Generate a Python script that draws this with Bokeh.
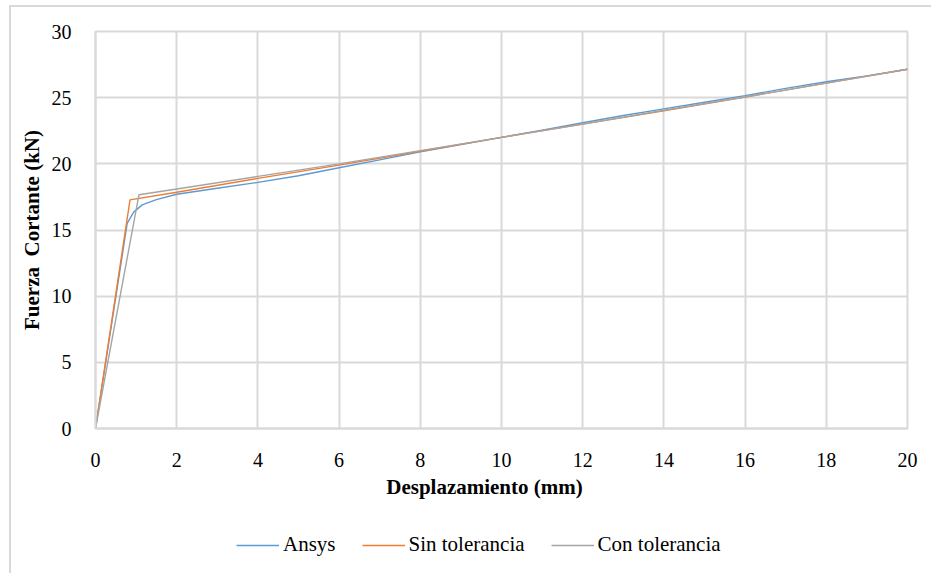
from bokeh.plotting import figure
from bokeh.layouts import column
from bokeh.models import Legend, LegendItem, Range1d, FixedTicker, Label
from bokeh.embed import file_html
from bokeh.resources import INLINE

# Data
x_ansys = [0, 0.78, 0.94, 1.15, 1.5, 2, 3, 4, 5, 6, 7, 8, 9, 10, 11, 12, 13, 14, 15, 16, 17, 18, 19, 20]
y_ansys = [0, 15.5, 16.35, 16.9, 17.3, 17.7, 18.15, 18.6, 19.1, 19.7, 20.3, 20.9, 21.45, 22.0, 22.55, 23.1, 23.65, 24.15, 24.65, 25.15, 25.7, 26.2, 26.65, 27.15]

x_sin = [0, 0.85, 2, 4, 6, 8, 10, 12, 14, 16, 18, 20]
y_sin = [0, 17.28, 17.85, 18.9, 19.9, 20.95, 22.0, 23.0, 24.0, 25.05, 26.1, 27.15]

x_con = [0, 1.07, 2, 4, 6, 8, 10, 12, 14, 16, 18, 20]
y_con = [0, 17.66, 18.1, 19.05, 20.0, 21.0, 22.0, 23.0, 24.05, 25.05, 26.1, 27.15]

x_ticks = [0, 2, 4, 6, 8, 10, 12, 14, 16, 18, 20]
y_ticks = [0, 5, 10, 15, 20, 25, 30]

series_names = ["Ansys", "Sin tolerancia", "Con tolerancia"]
colors = ["#5B9BD5", "#ED7D31", "#A5A5A5"]
series_x = [x_ansys, x_sin, x_con]
series_y = [y_ansys, y_sin, y_con]

x_title = "Desplazamiento (mm)"
y_title = "Fuerza\u00a0 Cortante (kN)"

FONT = "Liberation Serif"
GRID = "#d9d9d9"

p = figure(
    frame_width=812, frame_height=397,
    min_border_left=84, min_border_top=24, min_border_right=24, min_border_bottom=46,
    output_backend="svg", toolbar_location=None,
    x_range=Range1d(0, 20), y_range=Range1d(0, 30),
)

for xs, ys, c in zip(series_x, series_y, colors):
    p.line(xs, ys, line_color=c, line_width=1.4)

p.xaxis.ticker = FixedTicker(ticks=x_ticks)
p.yaxis.ticker = FixedTicker(ticks=y_ticks)
for ax in (p.xaxis, p.yaxis):
    ax.major_tick_line_color = None
    ax.minor_tick_line_color = None
    ax.axis_line_color = GRID
    ax.axis_line_width = 2
    ax.major_label_text_font = FONT
    ax.major_label_text_font_size = "20px"
    ax.major_label_text_color = "#000000"
    ax.axis_label_text_font = FONT
    ax.axis_label_text_font_size = "21px"
    ax.axis_label_text_font_style = "bold"
    ax.axis_label_text_color = "#000000"

p.yaxis.axis_label = y_title
p.xaxis.major_label_standoff = 18
p.yaxis.major_label_standoff = 18
p.yaxis.axis_label_standoff = 5

p.xgrid.grid_line_color = GRID
p.ygrid.grid_line_color = GRID
p.xgrid.grid_line_width = 2
p.ygrid.grid_line_width = 2
p.outline_line_color = GRID
p.outline_line_width = 2
p.background_fill_color = "white"
p.border_fill_color = "white"

# Strip below the chart: x-axis title and legend (series drawn off-range, only swatches show)
p2 = figure(
    frame_width=920, frame_height=99,
    min_border_left=0, min_border_top=0, min_border_right=0, min_border_bottom=0,
    output_backend="svg", toolbar_location=None,
    x_axis_location=None, y_axis_location=None,
    x_range=Range1d(100, 101), y_range=Range1d(100, 101),
)
p2.xgrid.visible = False
p2.ygrid.visible = False
p2.outline_line_color = None
p2.background_fill_color = "white"
p2.border_fill_color = "white"

p2.add_layout(Label(
    x=389, y=87, x_units="screen", y_units="screen", text=x_title,
    text_font=FONT, text_font_size="21px", text_font_style="bold",
    text_color="#000000", text_align="center", text_baseline="middle",
))

leg_renderers = [p2.line(xs, ys, line_color=c, line_width=1.4)
                 for xs, ys, c in zip(series_x, series_y, colors)]

legend = Legend(
    items=[LegendItem(label=n, renderers=[r]) for n, r in zip(series_names, leg_renderers)],
    orientation="horizontal",
    location=(225, 16),
    label_text_font=FONT,
    label_text_font_size="21px",
    label_text_color="#000000",
    glyph_width=43, glyph_height=20, label_height=20,
    label_standoff=4, spacing=26, padding=0, margin=0,
    border_line_color=None, background_fill_alpha=0,
)
p2.add_layout(legend, "center")

layout = column(p, p2, spacing=0)
layout.styles = {"margin-left": "9px", "margin-top": "5px",
                 "border-left": "2px solid #d9d9d9", "border-top": "2px solid #d9d9d9"}

open("out.html", "w").write(file_html(layout, INLINE))
